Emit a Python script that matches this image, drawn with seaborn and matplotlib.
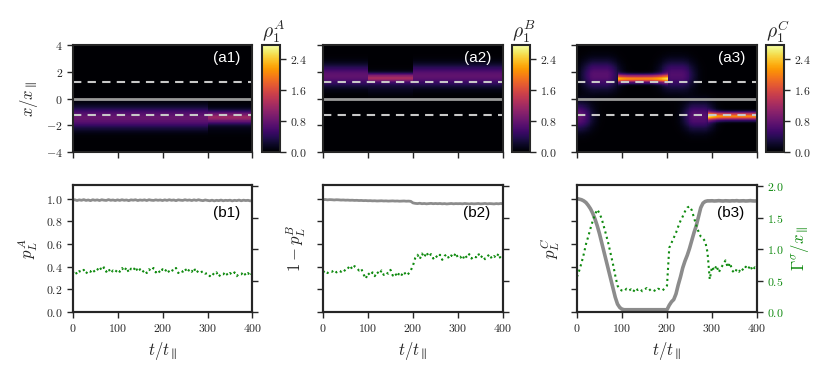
import numpy as np
import pandas as pd
import matplotlib
matplotlib.use('Agg')
import matplotlib.pyplot as plt
import matplotlib.ticker as mticker
import seaborn as sns

# ── DATA ─────────────────────────────────────
t = np.arange(0, 401, 5)

# (b1) p_L^A  (left axis) and width (right axis)
pA = [0.986, 0.990, 0.983, 0.989, 0.985, 0.991, 0.984, 0.988, 0.982, 0.990, 0.985,
      0.989, 0.983, 0.990, 0.986, 0.984, 0.991, 0.985, 0.988, 0.983, 0.989,
      0.984, 0.990, 0.985, 0.988, 0.982, 0.989, 0.986, 0.990, 0.983, 0.988,
      0.985, 0.989, 0.983, 0.990, 0.986, 0.984, 0.989, 0.985, 0.988, 0.983,
      0.989, 0.984, 0.990, 0.985, 0.988, 0.982, 0.989, 0.986, 0.984, 0.990,
      0.985, 0.988, 0.983, 0.989, 0.984, 0.990, 0.985, 0.982, 0.988, 0.984,
      0.981, 0.986, 0.980, 0.985, 0.982, 0.987, 0.981, 0.985, 0.983, 0.986,
      0.980, 0.985, 0.982, 0.987, 0.981, 0.986, 0.983, 0.985, 0.980, 0.984]
gA = [0.62, 0.66, 0.60, 0.65, 0.63, 0.67, 0.61, 0.66, 0.64, 0.68, 0.63,
      0.67, 0.72, 0.66, 0.71, 0.64, 0.69, 0.62, 0.66, 0.63, 0.68,
      0.64, 0.70, 0.65, 0.71, 0.63, 0.69, 0.66, 0.72, 0.64, 0.68,
      0.63, 0.67, 0.62, 0.68, 0.65, 0.70, 0.63, 0.67, 0.62, 0.68,
      0.64, 0.69, 0.63, 0.67, 0.65, 0.70, 0.62, 0.66, 0.64, 0.69,
      0.63, 0.68, 0.64, 0.70, 0.62, 0.66, 0.63, 0.65, 0.61, 0.62,
      0.57, 0.62, 0.59, 0.63, 0.56, 0.61, 0.60, 0.64, 0.58, 0.62,
      0.59, 0.63, 0.57, 0.61, 0.60, 0.64, 0.58, 0.62, 0.57, 0.63]

# (b2) 1 - p_L^B and width
pB = [0.990, 0.992, 0.989, 0.991, 0.990, 0.988, 0.990, 0.989, 0.987, 0.988, 0.986,
      0.987, 0.985, 0.986, 0.984, 0.985, 0.983, 0.984, 0.982, 0.983, 0.981,
      0.982, 0.980, 0.981, 0.979, 0.980, 0.981, 0.979, 0.980, 0.978, 0.979,
      0.980, 0.978, 0.979, 0.977, 0.978, 0.979, 0.977, 0.978, 0.976, 0.962,
      0.958, 0.956, 0.959, 0.955, 0.957, 0.954, 0.956, 0.958, 0.955, 0.957,
      0.955, 0.957, 0.954, 0.956, 0.953, 0.955, 0.957, 0.954, 0.956, 0.955,
      0.956, 0.954, 0.957, 0.955, 0.953, 0.956, 0.954, 0.955, 0.957, 0.954,
      0.955, 0.957, 0.954, 0.956, 0.955, 0.953, 0.956, 0.954, 0.957, 0.955]
gB = [0.63, 0.66, 0.62, 0.65, 0.64, 0.67, 0.63, 0.66, 0.64, 0.68, 0.65,
      0.69, 0.74, 0.68, 0.73, 0.70, 0.66, 0.69, 0.60, 0.53, 0.62,
      0.58, 0.63, 0.57, 0.64, 0.60, 0.66, 0.59, 0.63, 0.61, 0.67,
      0.58, 0.62, 0.56, 0.63, 0.59, 0.64, 0.58, 0.61, 0.66, 0.74,
      0.86, 0.91, 0.84, 0.93, 0.87, 0.95, 0.88, 0.92, 0.85, 0.90,
      0.86, 0.91, 0.83, 0.89, 0.92, 0.85, 0.90, 0.87, 0.94, 0.86,
      0.88, 0.83, 0.91, 0.86, 0.92, 0.85, 0.89, 0.87, 0.93, 0.86,
      0.90, 0.84, 0.88, 0.92, 0.85, 0.89, 0.86, 0.93, 0.84, 0.88]

# (b3) p_L^C and width
pC = [1.000, 0.995, 0.990, 0.980, 0.965, 0.940, 0.910, 0.870, 0.820, 0.760, 0.690,
      0.610, 0.530, 0.450, 0.370, 0.290, 0.210, 0.130, 0.070, 0.040, 0.025,
      0.020, 0.020, 0.020, 0.020, 0.020, 0.020, 0.020, 0.020, 0.020, 0.020,
      0.020, 0.020, 0.020, 0.020, 0.020, 0.020, 0.020, 0.020, 0.020,
      0.020, 0.060, 0.090, 0.110, 0.160, 0.240, 0.310, 0.390, 0.450, 0.500,
      0.560, 0.630, 0.700, 0.760, 0.840, 0.920, 0.960, 0.975, 0.980,
      0.980, 0.981, 0.979, 0.980, 0.982, 0.980, 0.979, 0.981, 0.980, 0.979, 0.981,
      0.980, 0.982, 0.979, 0.980, 0.981, 0.979, 0.980, 0.982, 0.980, 0.979, 0.981]
gC = [0.56, 0.66, 0.78, 0.92, 1.08, 1.20, 1.33, 1.45, 1.55, 1.63, 1.57,
      1.48, 1.35, 1.22, 1.08, 0.92, 0.76, 0.58, 0.42, 0.36, 0.34,
      0.33, 0.37, 0.34, 0.36, 0.32, 0.38, 0.35, 0.37, 0.33, 0.36,
      0.38, 0.34, 0.37, 0.35, 0.33, 0.37, 0.36, 0.34, 0.38,
      0.42, 1.02, 1.10, 1.18, 1.26, 1.36, 1.45, 1.52, 1.60, 1.66,
      1.68, 1.62, 1.50, 1.38, 1.28, 1.20, 1.17, 1.12, 0.95,
      0.52, 0.72, 0.66, 0.74, 0.63, 0.70, 0.76, 0.82, 0.71, 0.78, 0.66,
      0.62, 0.68, 0.64, 0.70, 0.66, 0.72, 0.68, 0.74, 0.66, 0.71, 0.68]

# density blobs per panel: (t_start, t_end, x_center, x_width, amplitude, t_softness)
blobs_A = [(0, 300, -1.45, 0.55, 0.80, 0),
           (300, 400, -1.40, 0.30, 0.95, 0),
           (300, 400, -1.50, 0.65, 0.20, 0)]
blobs_B = [(0, 100, 1.70, 0.55, 0.75, 0),
           (100, 200, 1.55, 0.22, 1.00, 0),
           (100, 200, 1.20, 0.50, 0.30, 0),
           (200, 400, 1.70, 0.55, 0.75, 0)]
blobs_C = [(0, 5, -1.35, 0.70, 0.75, 20),
           (40, 65, 1.75, 0.75, 0.70, 20),
           (92, 202, 1.48, 0.20, 2.00, 0),
           (212, 232, 1.75, 0.75, 0.65, 20),
           (262, 280, -1.35, 0.70, 0.70, 18),
           (292, 400, -1.32, 0.20, 2.00, 0)]

names = ['A', 'B', 'C']
well_pos = 1.25
vmax = 2.76

# ── STYLE ────────────────────────────────────
sns.set_theme(style='ticks')
plt.rcParams['mathtext.fontset'] = 'cm'
plt.rcParams['font.family'] = ['DejaVu Sans']
edge = '#262626'
green = '#0f8a0f'
gray = '#8c8c8c'

dt, dx = 2.0, 0.04
tc = np.arange(dt / 2, 400, dt)
xc = np.arange(4 - dx / 2, -4, -dx)


def density(blobs):
    rho = np.zeros((len(xc), len(tc)))
    for t0, t1, x0, sx, amp, st in blobs:
        if st > 0:
            ft = np.ones_like(tc)
            ft[tc < t0] = np.exp(-(tc[tc < t0] - t0) ** 2 / (2 * st ** 2))
            ft[tc > t1] = np.exp(-(tc[tc > t1] - t1) ** 2 / (2 * st ** 2))
        else:
            ft = ((tc >= t0) & (tc <= t1)).astype(float)
        fx = np.exp(-(xc - x0) ** 2 / (2 * sx ** 2))
        rho += amp * np.outer(fx, ft)
    return pd.DataFrame(rho, index=np.round(xc, 3), columns=tc)


def rect(x0, yt, x1, yb):
    return [x0 / 829, 1 - yb / 375, (x1 - x0) / 829, (yb - yt) / 375]


def mfmt(dec):
    return mticker.FuncFormatter(lambda v, p: f'${v:.{dec}f}$')


fig = plt.figure(figsize=(8.29, 3.75), dpi=100)
lefts = [72.5, 323, 577]
width = 180

tick_kw = dict(direction='out', length=4, width=1.0, color=edge, labelsize=8.5, pad=3)

for i, (name, blobs) in enumerate(zip(names, [blobs_A, blobs_B, blobs_C])):
    x0 = lefts[i]
    ax = fig.add_axes(rect(x0, 45, x0 + width, 152))
    cax = fig.add_axes(rect(x0 + 189, 45, x0 + 207, 152))
    sns.heatmap(density(blobs), ax=ax, cmap='inferno', vmin=0, vmax=vmax,
                cbar_ax=cax, xticklabels=False, yticklabels=False,
                cbar_kws={'ticks': [0, 0.8, 1.6, 2.4]}, rasterized=True)
    for s in ax.spines.values():
        s.set_visible(True)
        s.set_color(edge)
        s.set_linewidth(1.5)
    ax.set_xticks([v / dt for v in [0, 100, 200, 300, 400]])
    ax.set_xticklabels([])
    ax.set_yticks([(4 - v) / dx for v in [-4, -2, 0, 2, 4]])
    if i == 0:
        ax.set_yticklabels([r'$-4$', r'$-2$', r'$0$', r'$2$', r'$4$'])
        ax.set_ylabel(r'$x/x_\parallel$', fontsize=12, labelpad=4)
    else:
        ax.set_yticklabels([])
        ax.set_ylabel('')
    ax.set_xlabel('')
    ax.tick_params(**tick_kw)
    ax.axhline((4 - well_pos) / dx, color='#c8c8c8', lw=1.5, ls=(0, (4, 3)))
    ax.axhline((4 + well_pos) / dx, color='#c8c8c8', lw=1.5, ls=(0, (4, 3)))
    ax.axhline(4 / dx, color='#9a9a9a', lw=2)
    ax.text(0.935, 0.88, f'(a{i + 1})', transform=ax.transAxes, color='white',
            ha='right', va='center', fontsize=11, family='Liberation Sans')

    cax.yaxis.set_major_formatter(mfmt(1))
    cax.tick_params(direction='out', length=4, width=1.0, color=edge, labelsize=8.5)
    cb = ax.collections[0].colorbar
    cb.outline.set_visible(True)
    cb.outline.set_edgecolor(edge)
    cb.outline.set_linewidth(1.5)
    cax.set_title(rf'$\rho_1^{name}$', fontsize=14, pad=3, loc='left')

# ── BOTTOM ROW ───────────────────────────────
p_series = [pA, pB, pC]
g_series = [gA, gB, gC]
p_labels = [r'$p_L^A$', r'$1-p_L^B$', r'$p_L^C$']
p_widths = [2.0, 2.0, 2.6]

for i in range(3):
    x0 = lefts[i]
    ax = fig.add_axes(rect(x0, 185, x0 + width, 312))
    ax2 = ax.twinx()
    sns.lineplot(x=t, y=p_series[i], ax=ax, color=gray, lw=p_widths[i], estimator=None)
    sns.lineplot(x=t, y=g_series[i], ax=ax2, color=green, lw=1.5, ls=':', estimator=None)
    ax.set_xlim(0, 400)
    ax.set_ylim(0, 1.12)
    ax2.set_ylim(0, 2.02)
    ax.set_xticks([0, 100, 200, 300, 400])
    ax.xaxis.set_major_formatter(mfmt(0))
    ax.set_yticks([0, 0.2, 0.4, 0.6, 0.8, 1.0])
    ax2.set_yticks([0, 0.5, 1.0, 1.5, 2.0])
    ax.tick_params(**tick_kw)
    ax2.tick_params(**tick_kw)
    ax2.tick_params(axis='y', labelcolor=green)
    if i == 0:
        ax.yaxis.set_major_formatter(mfmt(1))
    else:
        ax.set_yticklabels([])
    if i == 2:
        ax2.yaxis.set_major_formatter(mfmt(1))
        ax2.set_ylabel(r'$\Gamma^\sigma/x_\parallel$', color=green, fontsize=12, labelpad=4)
    else:
        ax2.set_yticklabels([])
        ax2.set_ylabel('')
    ax.set_ylabel(p_labels[i], fontsize=12, labelpad=4)
    ax.set_xlabel(r'$t/t_\parallel$', fontsize=12, labelpad=4)
    for a in (ax, ax2):
        for s in a.spines.values():
            s.set_color(edge)
            s.set_linewidth(1.5)
    ax.text(0.93, 0.78, f'(b{i + 1})', transform=ax.transAxes, color='black',
            ha='right', va='center', fontsize=11, family='Liberation Sans')

fig.savefig('out.png', dpi=100)
